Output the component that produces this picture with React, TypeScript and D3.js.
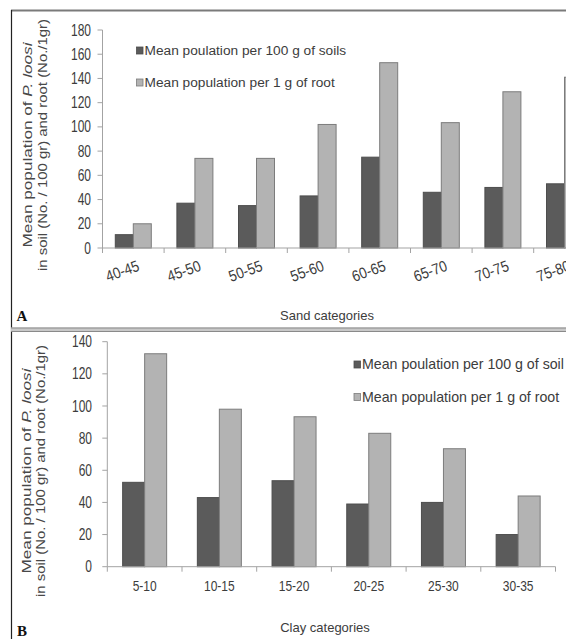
import React from "react";
import * as d3 from "d3";

const sandCats = ["40-45", "45-50", "50-55", "55-60", "60-65", "65-70", "70-75", "75-80"];
const sandSoil = [11, 37, 35, 43, 75, 46, 50, 53];
const sandRoot = [20, 74, 74, 102, 153, 103.5, 129, 141];
const sandTicks = [0, 20, 40, 60, 80, 100, 120, 140, 160, 180];

const clayCats = ["5-10", "10-15", "15-20", "20-25", "25-30", "30-35"];
const claySoil = [52.5, 43, 53.5, 39, 40, 20];
const clayRoot = [132.5, 98, 93.3, 83, 73.4, 44];
const clayTicks = [0, 20, 40, 60, 80, 100, 120, 140];

const seriesKeys = ["soil", "root"];
const legendA = ["Mean poulation per 100 g of soils", "Mean population per 1 g of root"];
const legendB = ["Mean poulation per 100 g of soil", "Mean population per 1 g of root"];

const DARK = "#5b5b5b";
const DARK_STROKE = "#4d4d4d";
const LIGHT = "#b3b3b3";
const LIGHT_STROKE = "#7c7c7c";
const AXIS = "#a3a3a3";
const TEXT = "#3c3c3c";
const FONT = "'Liberation Sans', Arial, sans-serif";

type PanelProps = {
  cats: string[];
  soil: number[];
  root: number[];
  ticks: number[];
  yMax: number;
  y0: number;
  y1: number;
  x0: number;
  step: number;
  pair: number;
  rotateLabels: boolean;
  labelY: number;
  tickLabelX: number;
};

function Panel(p: PanelProps) {
  const y = d3.scaleLinear().domain([0, p.yMax]).range([p.y0, p.y1]);
  const x = d3
    .scaleBand<string>()
    .domain(p.cats)
    .range([p.x0, p.x0 + p.step * p.cats.length])
    .padding(0);
  const off = (x.bandwidth() - p.pair) / 2;
  const xi = d3.scaleBand<string>().domain(seriesKeys).range([0, p.pair]).padding(0);
  const bounds = d3.range(p.cats.length + 1).map((i) => p.x0 + i * x.step());
  const vals = [p.soil, p.root];
  return (
    <g>
      {p.cats.map((c, i) =>
        seriesKeys.map((k, j) => {
          const v = vals[j][i];
          return (
            <rect
              key={c + k}
              x={(x(c) as number) + off + (xi(k) as number)}
              y={y(v)}
              width={xi.bandwidth()}
              height={p.y0 - y(v)}
              fill={j === 0 ? DARK : LIGHT}
              stroke={j === 0 ? DARK_STROKE : LIGHT_STROKE}
              strokeWidth={1}
            />
          );
        })
      )}
      <line x1={p.x0} x2={p.x0} y1={y(p.yMax)} y2={p.y0} stroke={AXIS} strokeWidth={1} />
      <line x1={p.x0} x2={bounds[bounds.length - 1]} y1={p.y0} y2={p.y0} stroke={AXIS} strokeWidth={1} />
      {p.ticks.map((t) => (
        <g key={t}>
          <line x1={p.x0 - 5} x2={p.x0} y1={y(t)} y2={y(t)} stroke={AXIS} />
          <text
            transform={`translate(${p.tickLabelX},${y(t) + 5.6}) scale(1,1.35)`}
            textAnchor="end"
            fontSize={12}
            fill={TEXT}
            fontFamily={FONT}
          >
            {t}
          </text>
        </g>
      ))}
      {bounds.map((b, i) => (
        <line key={i} x1={b} x2={b} y1={p.y0} y2={p.y0 + 5} stroke={AXIS} />
      ))}
      {p.cats.map((c) => {
        const cx = (x(c) as number) + x.bandwidth() / 2;
        return p.rotateLabels ? (
          <text
            key={c}
            transform={`translate(${cx - 11},${p.labelY}) rotate(-20) scale(1,1.15)`}
            textAnchor="middle"
            dominantBaseline="central"
            fontSize={13.5}
            fill={TEXT}
            fontFamily={FONT}
          >
            {c}
          </text>
        ) : (
          <text
            key={c}
            transform={`translate(${cx},${p.labelY}) scale(1,1.25)`}
            textAnchor="middle"
            fontSize={12}
            fill={TEXT}
            fontFamily={FONT}
          >
            {c}
          </text>
        );
      })}
    </g>
  );
}

function YTitle({ x1, x2, cy, len1, len2 }: { x1: number; x2: number; cy: number; len1: number; len2: number }) {
  return (
    <g fill="#484848" fontFamily={FONT} fontSize={13.5}>
      <text transform={`translate(${x1},${cy}) rotate(-90)`} textAnchor="middle" textLength={len1} lengthAdjust="spacingAndGlyphs">
        Mean population of <tspan fontStyle="italic">P. loosi</tspan>
      </text>
      <text transform={`translate(${x2},${cy}) rotate(-90)`} textAnchor="middle" textLength={len2} lengthAdjust="spacingAndGlyphs">
        in soil (No. / 100 gr) and root (No./1gr)
      </text>
    </g>
  );
}

function Legend({ x, ys, labels, size }: { x: number; ys: number[]; labels: string[]; size: number }) {
  return (
    <g>
      {labels.map((l, i) => (
        <g key={i}>
          <rect
            x={x}
            y={ys[i] - 8}
            width={6.5}
            height={7}
            fill={i === 0 ? DARK : LIGHT}
            stroke={i === 0 ? DARK_STROKE : LIGHT_STROKE}
            strokeWidth={0.8}
          />
          <text x={x + 8} y={ys[i]} fontSize={size} fill={TEXT} fontFamily={FONT}>
            {l}
          </text>
        </g>
      ))}
    </g>
  );
}

export default function App() {
  return (
    <svg
      width={566}
      height={639}
      style={{ position: "absolute", left: 0, top: 0, background: "#fff" }}
    >
      <rect x={0} y={0} width={566} height={639} fill="#fff" />
      {/* frame */}
      <line x1={11} x2={566} y1={10.5} y2={10.5} stroke="#7a7a7a" strokeWidth={2} />
      <line x1={11.5} x2={11.5} y1={10} y2={639} stroke="#222" strokeWidth={1.2} />
      <rect x={11} y={327.5} width={555} height={4.5} fill="#c8c8c8" />
      <line x1={11} x2={566} y1={328} y2={328} stroke="#8a8a8a" strokeWidth={1} />
      <line x1={11} x2={566} y1={331.5} y2={331.5} stroke="#8a8a8a" strokeWidth={1} />

      {/* Panel A */}
      <Panel
        cats={sandCats}
        soil={sandSoil}
        root={sandRoot}
        ticks={sandTicks}
        yMax={180}
        y0={248}
        y1={30}
        x0={102.5}
        step={61.6}
        pair={36}
        rotateLabels={true}
        labelY={271}
        tickLabelX={91}
      />
      <YTitle x1={32} x2={46.5} cy={145} len1={205} len2={252} />
      <Legend x={136.5} ys={[55, 87]} labels={legendA} size={13.7} />
      <text x={327} y={320} textAnchor="middle" fontSize={13} fill={TEXT} fontFamily={FONT}>
        Sand categories
      </text>
      <text x={16.5} y={320.5} fontSize={15} fontWeight="bold" fontFamily="'Liberation Serif', 'Times New Roman', serif" fill="#111">
        A
      </text>

      {/* Panel B */}
      <Panel
        cats={clayCats}
        soil={claySoil}
        root={clayRoot}
        ticks={clayTicks}
        yMax={140}
        y0={566.7}
        y1={341.7}
        x0={107.3}
        step={74.7}
        pair={44}
        rotateLabels={false}
        labelY={590.5}
        tickLabelX={92}
      />
      <YTitle x1={30.5} x2={44.5} cy={471} len1={205} len2={252} />
      <Legend x={354} ys={[369, 401.5]} labels={legendB} size={14.2} />
      <text x={325} y={632} textAnchor="middle" fontSize={13} fill={TEXT} fontFamily={FONT}>
        Clay categories
      </text>
      <text x={17} y={635.5} fontSize={15} fontWeight="bold" fontFamily="'Liberation Serif', 'Times New Roman', serif" fill="#111">
        B
      </text>
    </svg>
  );
}
